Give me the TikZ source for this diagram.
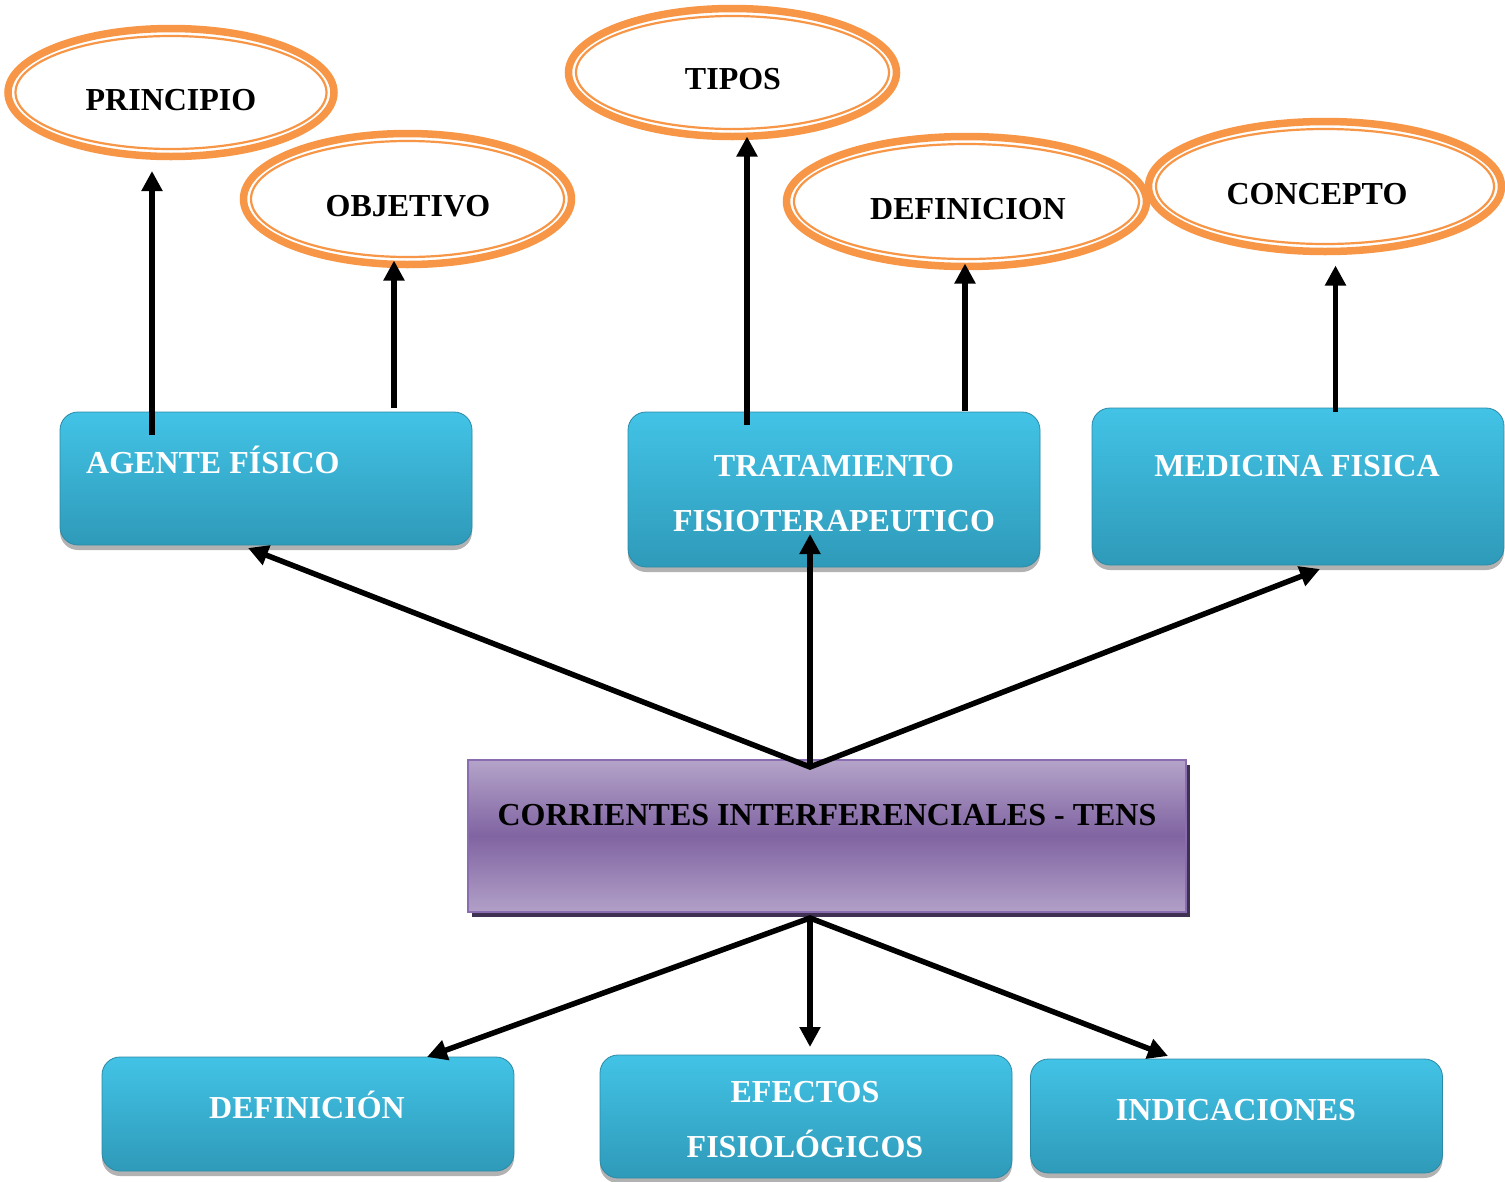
\documentclass[tikz,border=0pt]{standalone}
\usepackage{fontspec}
\setmainfont{Liberation Serif}
\usetikzlibrary{shapes.geometric, arrows.meta, shadows}
\definecolor{orangeline}{HTML}{F79646}
\definecolor{bluetop}{HTML}{42C3E6}
\definecolor{bluebot}{HTML}{2F9AB9}
\definecolor{blueedge}{HTML}{2A8AA6}
\definecolor{ptop}{HTML}{B4A3C9}
\definecolor{pmid}{HTML}{8064A2}
\definecolor{pbot}{HTML}{B2A0C8}
\definecolor{pedge}{HTML}{8A6DB0}
\definecolor{pshadow}{HTML}{3F3151}
\tikzset{
  oval/.style={ellipse, draw=orangeline, line width=7.5pt, fill=white, inner sep=0pt, outer sep=0pt},
  ovalinner/.style={draw=orangeline, line width=2.2pt},
  bluebox/.style={rounded corners=18pt, top color=bluetop, bottom color=bluebot, draw=blueedge, line width=0.8pt,
    minimum width=412pt, inner sep=0pt, outer sep=0pt,
    drop shadow={shadow xshift=0pt, shadow yshift=-5pt, fill=black, opacity=0.3}},
  purplebox/.style={top color=ptop, bottom color=pbot, middle color=pmid, draw=pedge, line width=1.5pt,
    inner sep=0pt, outer sep=0pt,
    drop shadow={shadow xshift=4pt, shadow yshift=-5pt, fill=pshadow, opacity=1}},
  txt/.style={font=\fontsize{32}{38}\selectfont\bfseries, inner sep=0pt},
  ovaltext/.style={txt, text=black, anchor=base},
  boxtext/.style={txt, text=white, anchor=base},
  twoline/.style={font=\fontsize{32}{55}\selectfont\bfseries, align=center},
  arr/.style={line width=5.5pt, ->},
}
\begin{document}
\begin{tikzpicture}[x=1pt, y=-1pt, >={Triangle[length=20pt,width=20pt]}]
\useasboundingbox (0,0) rectangle (1505,1181);

% ellipses
\node[oval, minimum width=326pt, minimum height=128pt] (principio) at (171,92.5) {};
\draw[ovalinner] (principio.center) ellipse ({(326/2-7.5)*1pt} and {(128/2-7.5)*1pt});
\node[oval, minimum width=328pt, minimum height=131pt] (objetivo) at (407.5,199) {};
\draw[ovalinner] (objetivo.center) ellipse ({(328/2-7.5)*1pt} and {(131/2-7.5)*1pt});
\node[oval, minimum width=328pt, minimum height=128pt] (tipos) at (732.5,72.5) {};
\draw[ovalinner] (tipos.center) ellipse ({(328/2-7.5)*1pt} and {(128/2-7.5)*1pt});
\node[oval, minimum width=360pt, minimum height=130pt] (definicion) at (966.5,201.5) {};
\draw[ovalinner] (definicion.center) ellipse ({(360/2-7.5)*1pt} and {(130/2-7.5)*1pt});
\node[oval, minimum width=353pt, minimum height=130pt] (concepto) at (1325,186.5) {};
\draw[ovalinner] (concepto.center) ellipse ({(353/2-7.5)*1pt} and {(130/2-7.5)*1pt});

\node[ovaltext] (tprincipio) at (171,110) {PRINCIPIO};
\node[ovaltext] (tobjetivo) at (408,216) {OBJETIVO};
\node[ovaltext] (ttipos) at (733,89) {TIPOS};
\node[ovaltext] (tdefinicion) at (968,219) {DEFINICION};
\node[ovaltext] (tconcepto) at (1317,204) {CONCEPTO};

% blue boxes
\node[bluebox, minimum height=133pt] (agente) at (266,478.5) {};
\node[bluebox, minimum height=155pt] (trat) at (834,489.5) {};
\node[bluebox, minimum height=157pt] (medic) at (1298,486.5) {};
\node[bluebox, minimum height=114pt] (defin) at (308,1114) {};
\node[bluebox, minimum height=123pt] (efectos) at (806,1116.5) {};
\node[bluebox, minimum height=114pt] (indic) at (1236.5,1116) {};

% purple box
\node[purplebox, minimum width=718pt, minimum height=152pt] (central) at (827,836) {};

% box texts
\node[boxtext, anchor=base west] (tagente) at (86,473) {AGENTE FÍSICO};
\node[boxtext, twoline] (ttrat) at (834,531) {TRATAMIENTO\\FISIOTERAPEUTICO};
\node[boxtext] (tmedic) at (1297,476) {MEDICINA FISICA};
\node[ovaltext] (tcentral) at (827,825) {CORRIENTES INTERFERENCIALES - TENS};
\node[boxtext] (tdefin) at (307,1118) {DEFINICIÓN};
\node[boxtext, twoline] (tefectos) at (805,1157) {EFECTOS\\FISIOLÓGICOS};
\node[boxtext] (tindic) at (1236,1120) {INDICACIONES};

% hubs
\coordinate (hubtop) at ([xshift=-17pt, yshift=-7pt]central.north);
\coordinate (hubbot) at ([xshift=-17pt, yshift=-6pt]central.south);

% upward arrows
\draw[arr] ([xshift=-114pt, yshift=-23pt]agente.north) -- ([xshift=-19pt, yshift=-14.5pt]principio.south);
\draw[arr] ([xshift=128pt, yshift=4pt]agente.north) -- ([xshift=-13.5pt, yshift=4pt]objetivo.south);
\draw[arr] ([xshift=-87pt, yshift=-13pt]trat.north) -- ([xshift=14.5pt, yshift=0pt]tipos.south);
\draw[arr] ([xshift=131pt, yshift=1pt]trat.north) -- ([xshift=-1.5pt, yshift=3pt]definicion.south);
\draw[arr] ([xshift=37.5pt, yshift=-4pt]medic.north) -- ([xshift=10.5pt, yshift=-14pt]concepto.south);

% from central box upward
\draw[line width=5.5pt, <->] ([xshift=-18pt, yshift=-3pt]agente.south) -- (hubtop) -- ([xshift=22pt, yshift=-4pt]medic.south);
\draw[arr] (hubtop) -- ([xshift=-24pt, yshift=33pt]trat.south);

% from central box downward
\draw[line width=5.5pt, <->] ([xshift=119pt, yshift=0pt]defin.north) -- (hubbot) -- ([xshift=-68.5pt, yshift=3pt]indic.north);
\draw[arr] (hubbot) -- ([xshift=4pt, yshift=8pt]efectos.north);
\end{tikzpicture}
\end{document}
